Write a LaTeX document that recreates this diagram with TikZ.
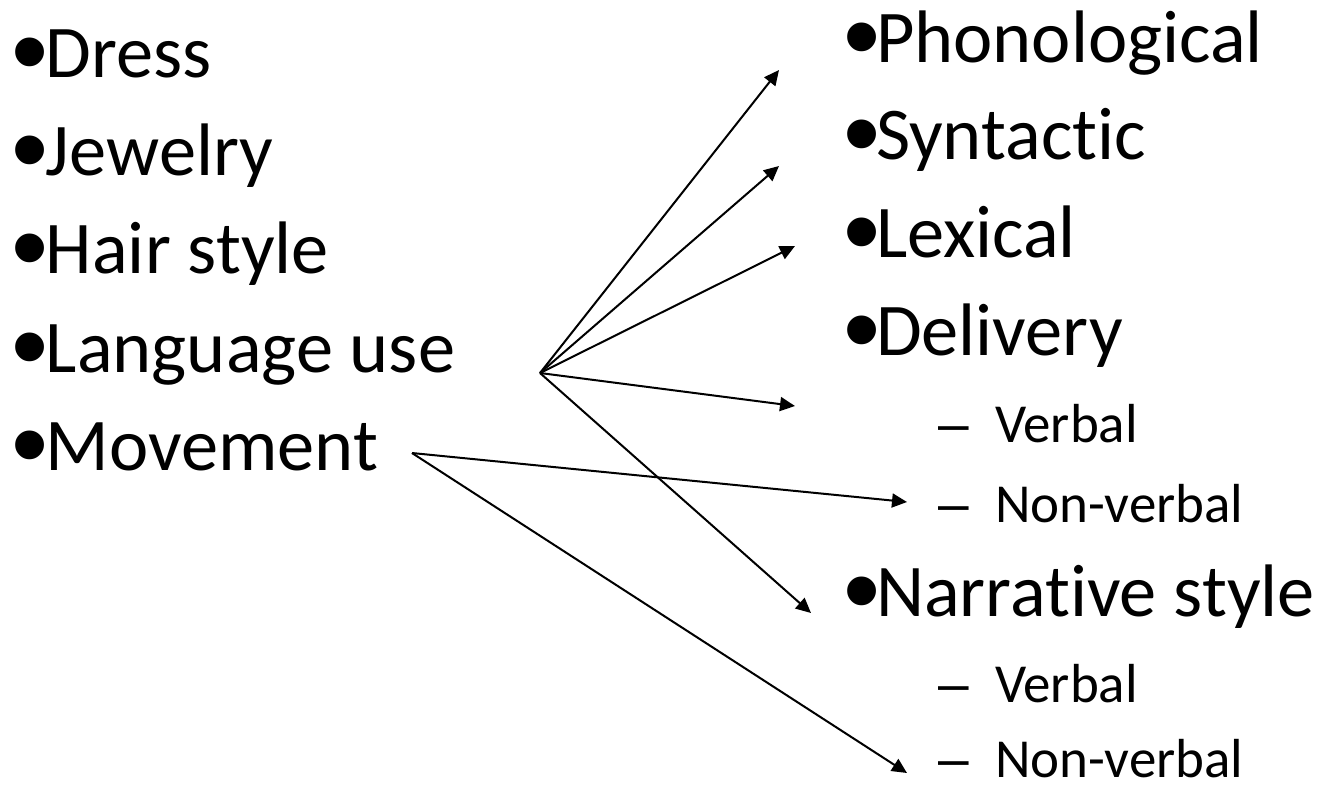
\documentclass[tikz,border=0pt]{standalone}
\usepackage{fontspec}
\setmainfont[Ligatures=NoCommon]{Carlito}
\newfontfamily\bulfont{Liberation Sans}
\usetikzlibrary{arrows.meta}
\begin{document}
\begin{tikzpicture}[x=0.5pt,y=-0.5pt,
  item/.style={anchor=base west,inner sep=0pt,outer sep=0pt,font=\fontsize{37.2pt}{37.2pt}\selectfont},
  bul/.style={anchor=north,inner sep=0pt,outer sep=0pt,font=\bulfont\fontsize{53pt}{53pt}\selectfont},
  subitem/.style={anchor=base west,inner sep=0pt,outer sep=0pt,font=\fontsize{27.5pt}{27.5pt}\selectfont},
  link/.style={line width=1pt,-{Triangle[length=7.5pt,width=7pt]}}]
\newcommand{\dsh}{\makebox[28.5pt][l]{\bulfont –}}
\useasboundingbox (0,0) rectangle (1338,784);
% left column
\node[bul] (b1) at (30.5,38.5) {•};
\node[item] (dress) at (46,77) {Dress};
\node[bul] (b2) at (30.5,136.5) {•};
\node[item] (jewelry) at (46,175) {Jewelry};
\node[bul] (b3) at (30.5,234.5) {•};
\node[item] (hair) at (46,273) {Hair style};
\node[bul] (b4) at (30.5,333.5) {•};
\node[item] (lang) at (46,372) {Language use};
\node[bul] (b5) at (30.5,431.5) {•};
\node[item] (move) at (46,470) {Movement};
% right column
\node[bul] (b6) at (862,23.5) {•};
\node[item] (phon) at (876,62) {Phonological};
\node[bul] (b7) at (862,120.5) {•};
\node[item] (synt) at (876,159) {Syntactic};
\node[bul] (b8) at (862,218.5) {•};
\node[item] (lex) at (876,257) {Lexical};
\node[bul] (b9) at (862,316.5) {•};
\node[item] (deliv) at (876,355) {Delivery};
\node[subitem] (dverb) at (938,442) {\dsh Verbal};
\node[subitem] (dnonv) at (938,522) {\dsh Non-verbal};
\node[bul] (b10) at (862,577.5) {•};
\node[item] (narr) at (876,616) {Narrative style};
\node[subitem] (nverb) at (938,702) {\dsh Verbal};
\node[subitem] (nnonv) at (938,777) {\dsh Non-verbal};
% connector points
\coordinate (lo) at (540,373);
\coordinate (mo) at (412,453);
\coordinate (tphon) at (779,70);
\coordinate (tsynt) at (779,166);
\coordinate (tlex) at (795,246);
\coordinate (tdel) at (795,406);
\coordinate (tnarr) at (811,613);
\coordinate (tdnonv) at (907,502);
\coordinate (tnnonv) at (907,773);
\draw[link] (lo) -- (tphon);
\draw[link] (lo) -- (tsynt);
\draw[link] (lo) -- (tlex);
\draw[link] (lo) -- (tdel);
\draw[link] (lo) -- (tnarr);
\draw[link] (mo) -- (tdnonv);
\draw[link] (mo) -- (tnnonv);
\end{tikzpicture}
\end{document}
